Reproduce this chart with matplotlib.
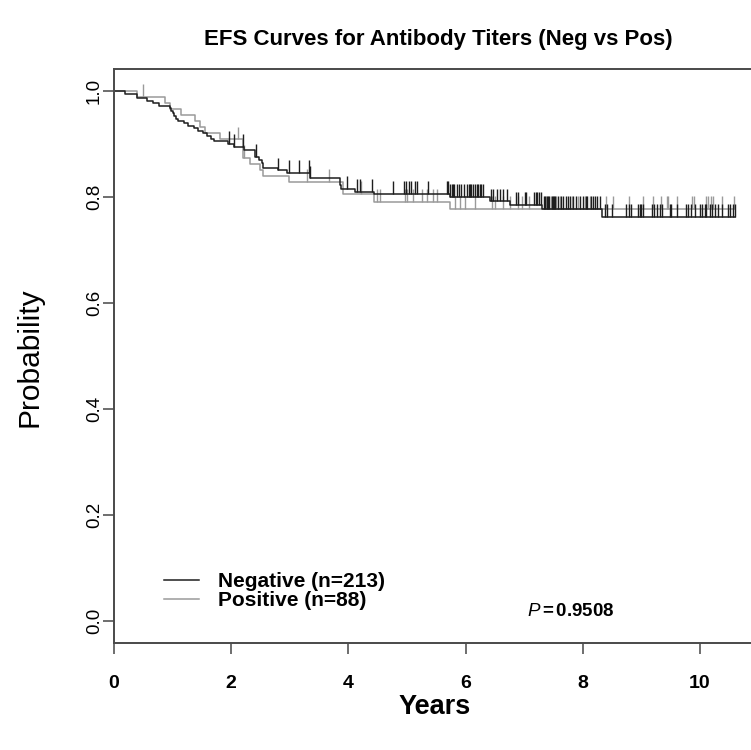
import numpy as np
import matplotlib
matplotlib.use("Agg")
import matplotlib.pyplot as plt
from matplotlib.lines import Line2D

plt.rcParams['font.family'] = ['Liberation Sans', 'DejaVu Sans']
plt.rcParams['mathtext.fontset'] = 'custom'
plt.rcParams['mathtext.it'] = 'Liberation Sans:italic'
plt.rcParams['mathtext.rm'] = 'Liberation Sans'

# Kaplan-Meier steps (years, survival after the event)
neg_times = [0.19, 0.39, 0.56, 0.67, 0.76, 0.95, 0.98, 1.00, 1.03, 1.06, 1.10,
             1.20, 1.27, 1.36, 1.44, 1.52, 1.58, 1.65, 1.70, 1.95, 2.04, 2.21,
             2.41, 2.48, 2.52, 2.55, 2.80, 2.95, 3.34, 3.86, 3.88, 4.11, 4.43,
             5.73, 6.42, 6.76, 7.30, 8.32]
neg_surv = [0.995, 0.986, 0.981, 0.977, 0.972, 0.967, 0.962, 0.958, 0.953, 0.948, 0.944,
            0.939, 0.934, 0.930, 0.925, 0.920, 0.915, 0.910, 0.905, 0.900, 0.895, 0.889,
            0.876, 0.870, 0.864, 0.854, 0.850, 0.845, 0.835, 0.823, 0.816, 0.810, 0.806,
            0.800, 0.792, 0.785, 0.777, 0.762]
neg_censor = [1.96, 2.05, 2.20, 2.42, 2.80, 2.99, 3.16, 3.32, 3.35,
              3.97, 4.14, 4.19, 4.40, 4.76, 4.95, 4.99, 5.03, 5.07, 5.13, 5.17, 5.36,
              5.68, 5.70, 5.74, 5.76, 5.78, 5.80, 5.85, 5.88, 5.93, 5.97, 6.02, 6.05,
              6.08, 6.10, 6.13, 6.16, 6.19, 6.22, 6.25, 6.27, 6.30, 6.43, 6.47, 6.54,
              6.59, 6.63, 6.70, 6.86, 6.90, 7.01, 7.03, 7.16, 7.20, 7.22, 7.25, 7.28,
              7.33, 7.35, 7.39, 7.41, 7.43, 7.47, 7.49, 7.51, 7.53, 7.58, 7.63, 7.66,
              7.71, 7.74, 7.78, 7.84, 7.88, 7.95, 8.00, 8.06, 8.08, 8.14, 8.17, 8.21,
              8.25, 8.29, 8.38, 8.42, 8.49, 8.74, 8.78, 8.82, 8.95, 8.98, 9.00, 9.03,
              9.18, 9.22, 9.26, 9.31, 9.36, 9.48, 9.50, 9.60, 9.76, 9.80, 9.84, 9.91,
              10.00, 10.03, 10.09, 10.11, 10.17, 10.20, 10.26, 10.31, 10.37, 10.48,
              10.51, 10.57, 10.60]

pos_times = [0.39, 0.87, 0.96, 1.15, 1.38, 1.47, 1.55, 1.81, 2.20, 2.32, 2.49,
             2.55, 2.98, 3.91, 4.43, 5.73]
pos_surv = [0.989, 0.977, 0.966, 0.955, 0.943, 0.932, 0.920, 0.909, 0.874, 0.863, 0.851,
            0.840, 0.828, 0.806, 0.791, 0.777]
pos_censor = [0.50, 2.12, 2.22, 3.29, 3.67, 4.21, 4.48, 4.54, 4.97, 5.00, 5.11,
              5.25, 5.34, 5.45, 5.51, 5.82, 5.90, 5.99, 6.16, 6.45, 6.50, 6.64,
              6.76, 6.89, 6.96, 7.08, 7.37, 7.45, 7.54, 7.61, 7.81, 7.92, 8.04,
              8.12, 8.40, 8.52, 8.79, 9.02, 9.20, 9.33, 9.43, 9.46, 9.60, 9.86,
              9.89, 10.10, 10.14, 10.18, 10.23, 10.37, 10.58]

labels = ["Negative (n=213)", "Positive (n=88)"]
p_value = 0.9508
x_ticks = [0, 2, 4, 6, 8, 10]
y_ticks = [0.0, 0.2, 0.4, 0.6, 0.8, 1.0]

neg_col = '#1e1e1e'
pos_col = '#9a9a9a'
W, H = 751, 750


def km_line(ax, times, surv, censor, color):
    t_end = max(censor[-1], times[-1])
    xs = np.r_[0, times, t_end]
    ys = np.r_[1.0, surv, surv[-1]]
    ax.step(xs, ys, where='post', color=color, lw=1.1)
    # survival level at each censored time
    idx = np.searchsorted(times, censor, side='right')
    lev = np.r_[1.0, surv][idx]
    ax.vlines(censor, lev, lev + 0.024, color=color, lw=1.0)


fig = plt.figure(figsize=(W / 100, H / 100), dpi=100)
ax = fig.add_axes([114 / W, 1 - 643 / H, 644.6 / W, 574 / H])

km_line(ax, np.array(pos_times), np.array(pos_surv), np.array(pos_censor), pos_col)
km_line(ax, np.array(neg_times), np.array(neg_surv), np.array(neg_censor), neg_col)

ax.set_xlim(0, 11)
ax.set_ylim(-0.0415, 1.0415)
ax.set_xticks(x_ticks)
ax.set_yticks(y_ticks)
ax.set_xticklabels([str(v) for v in x_ticks], fontsize=14, fontweight='bold')
ax.set_yticklabels([f"{v:.1f}" for v in y_ticks], fontsize=13.5, rotation=90, va='center')
ax.tick_params(axis='x', length=8, width=1.2, color='#555555', pad=15)
ax.tick_params(axis='y', length=8, width=1.2, color='#555555', pad=0)
for s in ax.spines.values():
    s.set_color('#4a4a4a')
    s.set_linewidth(1.4)

fig.text(438 / W, 1 - 39 / H, "EFS Curves for Antibody Titers (Neg vs Pos)",
         ha='center', va='center', fontsize=16, fontweight='bold')
fig.text(435 / W, 1 - 707 / H, "Years", ha='center', va='center',
         fontsize=19.5, fontweight='bold')
fig.text(30 / W, 1 - 357 / H, "Probability", ha='center', va='center',
         rotation=90, fontsize=21.5)

handles = [Line2D([], [], color=neg_col, lw=1.1), Line2D([], [], color=pos_col, lw=1.1)]
ax.legend(handles, labels, loc='upper left', bbox_to_anchor=(164 / W, 1 - 572 / H),
          bbox_transform=fig.transFigure, frameon=False, borderpad=0, borderaxespad=0,
          handlelength=1.7, handletextpad=0.9, labelspacing=0.0,
          prop={'size': 15, 'weight': 'bold'})

fig.text(527 / W, 1 - 611 / H, r"$P\,$=$\,$" + f"{p_value:.4f}", ha='left', va='center',
         fontsize=13.5, fontweight='bold')

fig.savefig("out.png", dpi=100)
